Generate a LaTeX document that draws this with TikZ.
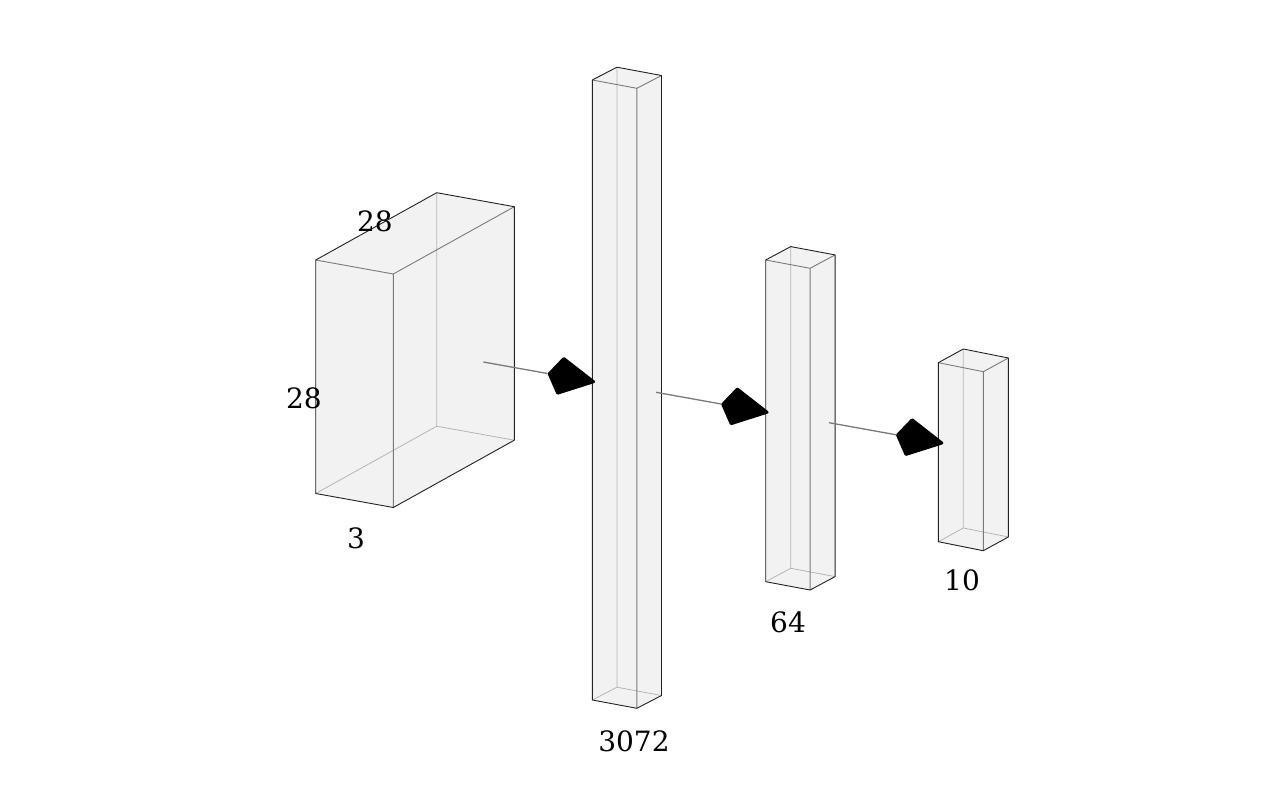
\documentclass[tikz,border=0pt]{standalone}
\usepackage{fontspec}
\setmainfont{DejaVu Serif}
\usepackage{tikz}
\usetikzlibrary{arrows.meta, calc}
\definecolor{layerfill}{HTML}{F2F2F2}
\definecolor{edgedark}{HTML}{222222}
\definecolor{edgemid}{HTML}{7A7A7A}
\definecolor{edgelight}{HTML}{B5B5B5}

% cuboid: name, front-left-top x/y, depth vector, width vector, height
\newcommand{\layerbox}[8]{%
  \coordinate (#1-flt) at (#2,#3);
  \coordinate (#1-frt) at ($(#1-flt)+(#4,#5)$);
  \coordinate (#1-blt) at ($(#1-flt)+(#6,#7)$);
  \coordinate (#1-brt) at ($(#1-frt)+(#6,#7)$);
  \coordinate (#1-flb) at ($(#1-flt)+(0,#8)$);
  \coordinate (#1-frb) at ($(#1-frt)+(0,#8)$);
  \coordinate (#1-blb) at ($(#1-blt)+(0,#8)$);
  \coordinate (#1-brb) at ($(#1-brt)+(0,#8)$);
  \fill[lf] (#1-flt)--(#1-blt)--(#1-brt)--(#1-brb)--(#1-frb)--(#1-flb)--cycle;
  \draw[hid] (#1-blt)--(#1-blb) (#1-blb)--(#1-flb) (#1-blb)--(#1-brb);
  \draw[inr] (#1-flt)--(#1-frt)--(#1-brt) (#1-frt)--(#1-frb);
  \draw[outl] (#1-flt)--(#1-blt)--(#1-brt)--(#1-brb)--(#1-frb)--(#1-flb)--cycle;
}

\begin{document}
\begin{tikzpicture}[x=1pt, y=-1pt,
  lf/.style={fill=layerfill},
  hid/.style={draw=edgelight, line width=0.8pt},
  inr/.style={draw=edgemid, line width=0.9pt},
  outl/.style={draw=edgedark, line width=0.9pt, line join=round},
  lbl/.style={font=\fontsize{28}{34}\selectfont, inner sep=0pt},
  a/.style={draw=edgemid, line width=1.3pt,
            -{Kite[length=50pt, width=39pt, inset=13pt, round, line width=3pt, color=black, fill=black]}}]
\useasboundingbox (0,0) rectangle (1275,789);

% layers
\layerbox{inp}{315.7}{260}{77.6}{14}{121}{-67.3}{233.5}
\layerbox{fl}{592.3}{80}{44.6}{8.3}{24.6}{-12.8}{620}
\layerbox{hd}{765.7}{260}{44.4}{8.3}{25}{-13.4}{321.7}
\layerbox{ot}{938.3}{362.7}{45}{9}{25}{-13.7}{179}

% sizes
\node[lbl] (inp-w) at (375,221) {28};
\node[lbl] (inp-h) at (304,398) {28};
\node[lbl] (inp-d) at (356,538) {3};
\node[lbl] (fl-n) at (634,741) {3072};
\node[lbl] (hd-n) at (788,622) {64};
\node[lbl] (ot-n) at (962,580) {10};

% connections
\coordinate (c1s) at (483.3,362);   \coordinate (c1e) at (595,382);
\coordinate (c2s) at (656,392.3);   \coordinate (c2e) at (768.5,412.5);
\coordinate (c3s) at (829,422.7);   \coordinate (c3e) at (943.3,443.3);
\draw[a] (c1s)--(c1e); \draw[a] (c2s)--(c2e); \draw[a] (c3s)--(c3e);
\end{tikzpicture}
\end{document}
